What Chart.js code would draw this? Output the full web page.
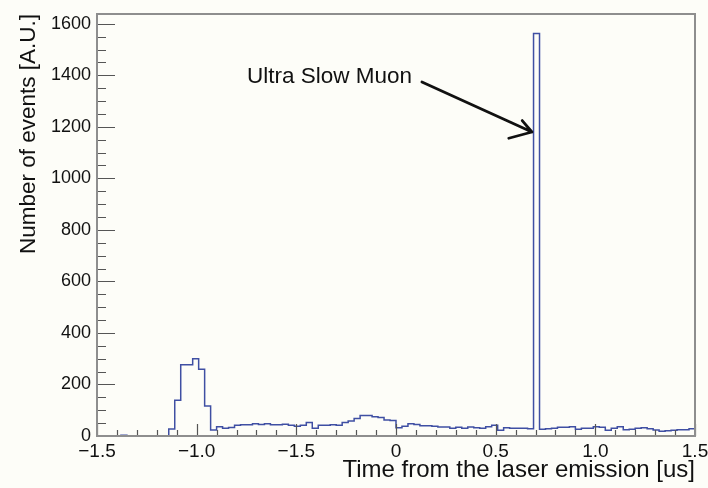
<!DOCTYPE html>
<html>
<head>
<meta charset="utf-8">
<script src="https://cdn.jsdelivr.net/npm/chart.js@4.4.1/dist/chart.umd.min.js"></script>
<style>
    html, body { margin: 0; padding: 0; background: #fdfdf8; }
    #wrap { width: 708px; height: 488px; position: relative; }
</style>
</head>
<body>
<div id="wrap"><canvas id="hist"></canvas></div>
<script>
// Binning: 100 bins of 0.03 from -1.5 to 1.5 (ROOT default)
const xMin = -1.5;
const binWidth = 0.03;

// Bin contents
const counts = [
    0, 0, 0, 0, 3, 0, 0, 0, 0, 0,
    0, 0, 27, 139, 277, 277, 300, 259, 116, 23,
    36, 30, 33, 42, 44, 44, 48, 45, 48, 44,
    44, 46, 42, 38, 42, 52, 30, 42, 42, 44,
    42, 52, 58, 68, 80, 80, 75, 72, 62, 60,
    32, 38, 48, 45, 40, 40, 38, 35, 35, 30,
    34, 30, 35, 32, 30, 36, 42, 22, 32, 30,
    30, 30, 28, 1562, 26, 28, 30, 34, 34, 36,
    26, 30, 30, 36, 34, 22, 30, 36, 24, 26,
    30, 32, 28, 23, 18, 20, 22, 24, 24, 28
];

// Axes
const xTickValues = [-1.5, -1.0, -0.5, 0, 0.5, 1.0, 1.5];
const xTickLabels = ['\u22121.5', '\u22121.0', '\u22121.5', '0', '0.5', '1.0', '1.5'];
const xMinorStep = 0.1;
const yTickValues = [0, 200, 400, 600, 800, 1000, 1200, 1400, 1600];
const yMinorStep = 50;
const yMax = 1638;

// Annotation (data coordinates)
const annotationText = 'Ultra Slow Muon';
const annotationAt = [-0.7475, 1394];
const arrowFrom = [0.13, 1374];
const arrowTo = [0.682, 1180];

const FONT = "'Liberation Sans', Arial, Helvetica, sans-serif";

// histogram outline: one point per left bin edge, plus the right edge
const points = counts.map((c, i) => ({ x: xMin + i * binWidth, y: c }));
points.push({ x: xMin + counts.length * binWidth, y: counts[counts.length - 1] });

const frameAndTicks = {
    id: 'frameAndTicks',
    afterDatasetsDraw(chart) {
        const { ctx, chartArea: a, scales: { x, y } } = chart;
        ctx.save();
        ctx.strokeStyle = '#555';
        ctx.lineWidth = 1.2;
        ctx.beginPath();
        // x ticks, pointing inward
        for (let v = xMin; v <= 1.5 + 1e-9; v += xMinorStep) {
            const px = Math.round(x.getPixelForValue(v)) + 0.5;
            const major = xTickValues.some(t => Math.abs(t - v) < 1e-6);
            ctx.moveTo(px, a.bottom);
            ctx.lineTo(px, a.bottom - (major ? 12 : 6));
        }
        // y ticks
        for (let v = 0; v <= yMax; v += yMinorStep) {
            const py = Math.round(y.getPixelForValue(v)) + 0.5;
            const major = yTickValues.includes(v);
            ctx.moveTo(a.left, py);
            ctx.lineTo(a.left + (major ? 18 : 9), py);
        }
        ctx.stroke();

        ctx.strokeStyle = '#8e8e8e';
        ctx.lineWidth = 2;
        ctx.strokeRect(a.left, a.top, a.right - a.left, a.bottom - a.top);

        // annotation
        ctx.fillStyle = '#111';
        ctx.font = '22.5px ' + FONT;
        ctx.textAlign = 'left';
        ctx.textBaseline = 'middle';
        ctx.fillText(annotationText, x.getPixelForValue(annotationAt[0]), y.getPixelForValue(annotationAt[1]));

        const x0 = x.getPixelForValue(arrowFrom[0]), y0 = y.getPixelForValue(arrowFrom[1]);
        const x1 = x.getPixelForValue(arrowTo[0]), y1 = y.getPixelForValue(arrowTo[1]);
        const ang = Math.atan2(y1 - y0, x1 - x0);
        ctx.strokeStyle = '#111';
        ctx.lineWidth = 2.8;
        ctx.lineCap = 'round';
        ctx.lineJoin = 'round';
        ctx.beginPath();
        ctx.moveTo(x0, y0);
        ctx.lineTo(x1, y1);
        // hand-drawn looking head: short upper wing, longer lower wing
        ctx.moveTo(x1 - 15 * Math.cos(ang + 0.44), y1 - 15 * Math.sin(ang + 0.44));
        ctx.lineTo(x1, y1);
        ctx.lineTo(x1 - 24 * Math.cos(ang - 0.69), y1 - 24 * Math.sin(ang - 0.69));
        ctx.stroke();
        ctx.restore();
    }
};

new Chart(document.getElementById('hist').getContext('2d'), {
    type: 'line',
    data: {
        datasets: [{
            data: points,
            borderColor: '#3f4fa3',
            borderWidth: 1.5,
            pointRadius: 0,
            stepped: 'before',
            fill: false,
            tension: 0
        }]
    },
    options: {
        responsive: true,
        maintainAspectRatio: false,
        animation: false,
        events: [],
        layout: { padding: { top: 14, right: 13, left: 0, bottom: 0 } },
        plugins: {
            legend: { display: false },
            tooltip: { enabled: false }
        },
        scales: {
            x: {
                type: 'linear',
                min: -1.5,
                max: 1.5,
                grid: { display: false, drawTicks: false, tickLength: 0 },
                border: { display: false },
                afterBuildTicks(scale) { scale.ticks = xTickValues.map(v => ({ value: v })); },
                afterFit(scale) {
                    scale.height = 52;
                    scale.paddingLeft = 0;
                    scale.paddingRight = 0;
                },
                ticks: {
                    autoSkip: false,
                    maxRotation: 0,
                    padding: 4,
                    color: '#111',
                    font: { family: FONT, size: 19 },
                    callback: (v, i) => xTickLabels[i]
                },
                title: {
                    display: true,
                    text: 'Time from the laser emission [us]',
                    align: 'end',
                    color: '#111',
                    font: { family: FONT, size: 24 },
                    padding: { top: 0, bottom: 3 }
                }
            },
            y: {
                min: 0,
                max: yMax,
                grid: { display: false, drawTicks: false, tickLength: 0 },
                border: { display: false },
                afterBuildTicks(scale) { scale.ticks = yTickValues.map(v => ({ value: v })); },
                afterFit(scale) {
                    scale.width = 97;
                    scale.paddingTop = 0;
                    scale.paddingBottom = 0;
                },
                ticks: {
                    padding: 6,
                    color: '#111',
                    font: { family: FONT, size: 18 },
                    callback: v => String(v)
                },
                title: {
                    display: true,
                    text: 'Number of events [A.U.]',
                    align: 'end',
                    color: '#111',
                    font: { family: FONT, size: 22.5 },
                    padding: { top: 15, bottom: 0 }
                }
            }
        }
    },
    plugins: [frameAndTicks]
});
</script>
</body>
</html>
